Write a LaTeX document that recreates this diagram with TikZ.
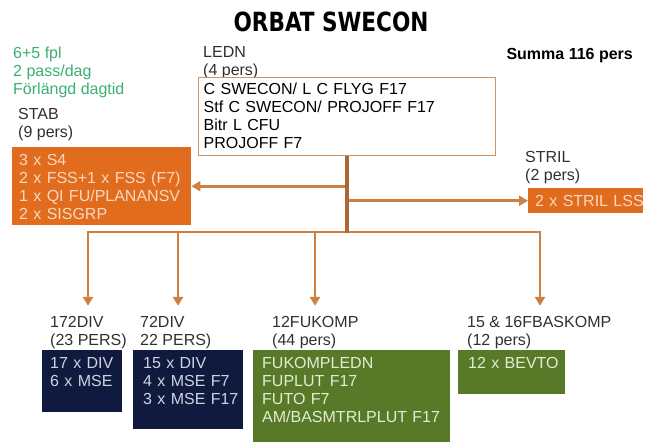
\documentclass[tikz,border=0pt]{standalone}
\usepackage{fontspec}
\setmainfont{Liberation Sans}
\newfontfamily\headfont{DejaVu Sans Condensed}
\usetikzlibrary{arrows.meta}
\newcommand\orbsize{\fontsize{16}{18}\selectfont}
% lines stacked with the baseline on the first one
\newcommand\boxlines[1]{\begin{tabular}[t]{@{}l@{}}#1\end{tabular}}
\tikzset{font=\orbsize}
\definecolor{linkbrown}{RGB}{206,128,66}
\definecolor{trunkbrown}{RGB}{172,104,52}
\definecolor{lednframe}{RGB}{206,148,98}
\definecolor{stabfill}{RGB}{226,108,30}
\definecolor{stabtext}{RGB}{248,216,194}
\definecolor{divnavy}{RGB}{16,26,62}
\definecolor{divtext}{RGB}{206,210,224}
\definecolor{kompgreen}{RGB}{88,122,40}
\definecolor{komptext}{RGB}{226,236,210}
\definecolor{notegreen}{RGB}{58,176,112}
\definecolor{lbltext}{RGB}{48,48,48}

\begin{document}
\begin{tikzpicture}[x=1pt,y=-1pt,
  link/.style={line width=2.9pt,draw=linkbrown},
  arr/.style={link,-{Triangle[length=9pt,width=10pt]}},
  lbl/.style={anchor=base west,inner xsep=0pt,inner ysep=9pt,
    text height=12pt,text=lbltext},
  box/.style={anchor=north west,inner xsep=8pt,inner ysep=6pt,
    text height=12pt}]
\useasboundingbox (0,0) rectangle (652,443);

\node[anchor=base,font=\headfont\bfseries\fontsize{24}{24}\selectfont] (title) at (331,32) {\scalebox{1}[1.1]{ORBAT SWECON}};
\node[anchor=base west,font=\orbsize\bfseries,text=black] (summa) at (503,60) {Summa 116 pers};
\node[lbl,text=notegreen] (note) at (13,59) {\boxlines{6+5 fpl\\2 pass/dag\\Förlängd dagtid}};

% ledning
\node[lbl] (lednlbl) at (203,58) {\boxlines{LEDN\\(4 pers)}};
\node[box,draw=lednframe,line width=1.4pt,fill=white,inner xsep=5pt,inner ysep=4.5pt,
  text width=287pt,text depth=57pt,text=black] (ledn) at (198,77)
  {\boxlines{C SWECON/ L C FLYG F17\\Stf C SWECON/ PROJOFF F17\\Bitr L CFU\\PROJOFF F7}};

% stab och stril
\node[lbl] (stablbl) at (18,120) {\boxlines{STAB\\(9 pers)}};
\node[box,fill=stabfill,text=stabtext,inner xsep=7pt,text width=165pt,text depth=54pt] (stab) at (12,147)
  {\boxlines{3 x S4\\2 x FSS+1 x FSS (F7)\\1 x QI FU/PLANANSV\\2 x SISGRP}};
\node[lbl] (strillbl) at (525,163) {\boxlines{STRIL\\(2 pers)}};
\node[box,fill=stabfill,text=stabtext,inner xsep=7pt,text width=101pt,text depth=1pt] (stril) at (528,188)
  {\boxlines{2 x STRIL LSS}};

% underlydande enheter
\node[lbl] (div172lbl) at (50,327) {\boxlines{172DIV\\(23 PERS)}};
\node[box,fill=divnavy,text=divtext,inner xsep=8pt,text width=64pt,text depth=38pt] (div172) at (42,350)
  {\boxlines{17 x DIV\\6 x MSE}};
\node[lbl] (div72lbl) at (140,327) {\boxlines{72DIV\\22 PERS)}};
\node[box,fill=divnavy,text=divtext,inner xsep=10pt,text width=90pt,text depth=55pt] (div72) at (133,350)
  {\boxlines{15 x DIV\\4 x MSE F7\\3 x MSE F17}};
\node[lbl] (fukomplbl) at (272,327) {\boxlines{12FUKOMP\\(44 pers)}};
\node[box,fill=kompgreen,text=komptext,inner xsep=9pt,text width=179pt,text depth=68pt] (fukomp) at (253,350)
  {\boxlines{FUKOMPLEDN\\FUPLUT F17\\FUTO F7\\AM/BASMTRLPLUT F17}};
\node[lbl] (fbaslbl) at (467,327) {\boxlines{15 \& 16FBASKOMP\\(12 pers)}};
\node[box,fill=kompgreen,text=komptext,inner xsep=10pt,text width=87pt,text depth=20pt] (fbas) at (458,350)
  {\boxlines{12 x BEVTO}};

% linjer
\coordinate (hub) at (347,232);
\coordinate (drop172) at (88,232);
\coordinate (drop72) at (178,232);
\coordinate (dropfu) at (315,232);
\coordinate (dropfb) at (540,232);
\draw[arr] (stab.east -| hub) -- (stab.east);
\draw[arr] (stril.west -| hub) -- (stril.west);
\draw[arr] (hub) -| (drop172 |- div172lbl.north);
\draw[arr] (hub) -| (dropfb |- fbaslbl.north);
\foreach \d/\l in {drop72/div72lbl,dropfu/fukomplbl}
  \draw[arr] (\d) -- (\d |- \l.north);
\draw[link,draw=trunkbrown,line width=3.2pt] (ledn.south -| hub) -- ([yshift=-1.5pt]hub);
\end{tikzpicture}
\end{document}
